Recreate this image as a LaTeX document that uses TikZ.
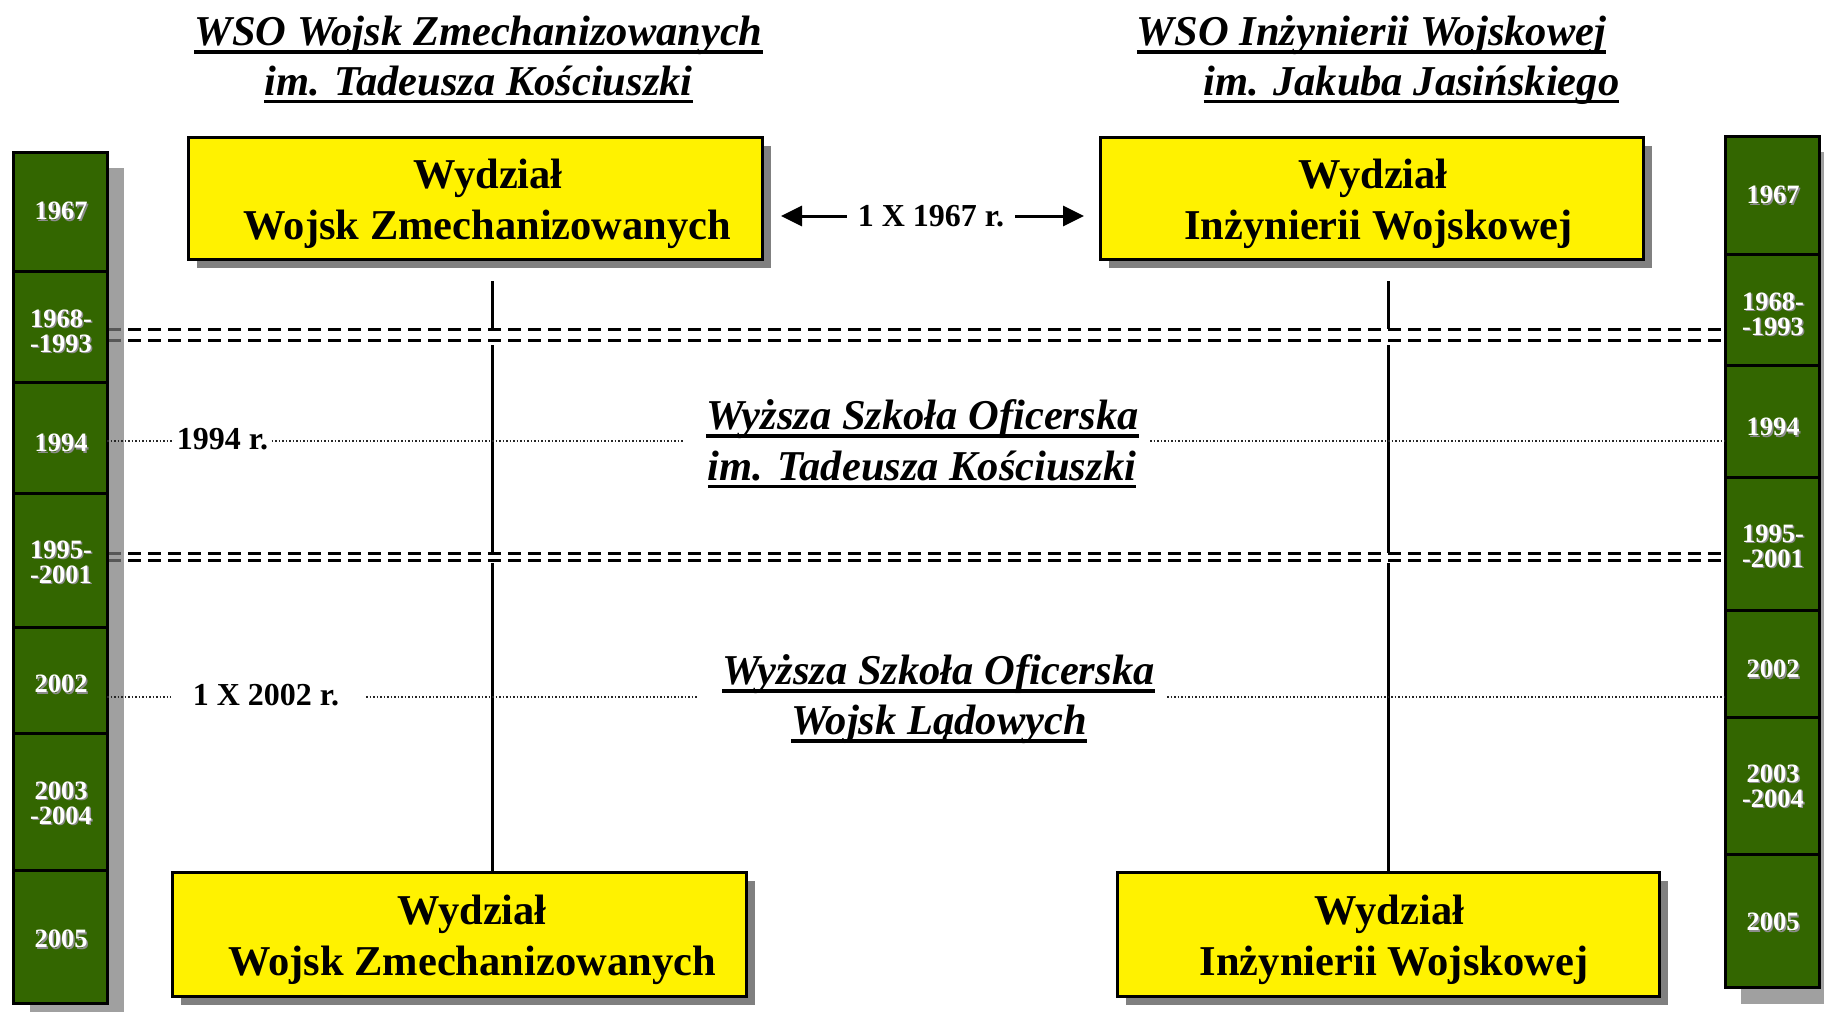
\documentclass[tikz,border=0pt]{standalone}
\usepackage{fontspec}
\setmainfont{Liberation Serif}
\usetikzlibrary{arrows.meta,shadows}
\definecolor{colgreen}{RGB}{51,102,0}
\definecolor{colshadow}{RGB}{160,160,160}
\definecolor{boxshadow}{RGB}{128,128,128}
\definecolor{txtshadow}{RGB}{140,140,140}
\newcommand\myul[1]{\setbox0\hbox{#1}\rlap{\rule[-8pt]{\wd0}{3.5pt}}\box0}
\begin{document}
\begin{tikzpicture}[x=1pt,y=-1pt,
  bigtxt/.style={font=\fontsize{42.5}{50}\selectfont\bfseries, inner sep=0pt, anchor=base},
  ttl/.style={font=\fontsize{42.5}{50}\selectfont\bfseries\itshape, inner sep=0pt, anchor=base},
  smalltxt/.style={font=\fontsize{32}{36}\selectfont\bfseries, inner sep=0pt},
  ybox/.style={draw=black, line width=3pt, fill=yellow, inner sep=0pt,
    general shadow={fill=boxshadow, shadow xshift=9pt, shadow yshift=-9pt}},
  yr/.style={font=\fontsize{26.5}{25}\selectfont\bfseries, text=white, align=center, inner sep=0pt},
  yrs/.style={yr, text=txtshadow, xshift=1.5pt, yshift=-1.5pt},
  colrule/.style={line width=3pt},
  dashline/.style={line width=3pt, dash pattern=on 13pt off 7pt},
  vline/.style={line width=3pt},
  dotline/.style={line width=1.5pt, dash pattern=on 1.5pt off 2pt, black!85},
  arr/.style={line width=3pt, -{Triangle[length=21pt,width=20pt]}}
]
\useasboundingbox (0,0) rectangle (1824,1012);
\newcommand\yrlab[4]{\node[yrs] at (#2,#3) {#4};\node[yr] (#1) at (#2,#3) {#4};}

% ---------- left timeline column ----------
\fill[colshadow] (30,168) rectangle (124,1019);
% dashed separators (drawn before the right column)
\draw[dashline] (108,329) -- (1723,329);
\draw[dashline] (108,340) -- (1723,340);
\draw[dashline] (108,553) -- (1723,553);
\draw[dashline] (108,560) -- (1723,560);
\fill[colshadow,opacity=0.55] (107,168) rectangle (124,1019);

\draw[colrule, fill=colgreen] (13,152) rectangle (107,1003);
\foreach \yy in {271,382,493,627,733,870} \draw[colrule] (13,\yy) -- (107,\yy);
\yrlab{l1}{61}{211}{1967}
\yrlab{l2}{61}{331}{1968-\\-1993}
\yrlab{l3}{61}{443}{1994}
\yrlab{l4}{61}{562}{1995-\\-2001}
\yrlab{l5}{61}{684}{2002}
\yrlab{l6}{61}{803}{2003\\-2004}
\yrlab{l7}{61}{939}{2005}

% ---------- right timeline column ----------
\fill[colshadow] (1741,152) rectangle (1840,1004);
\draw[colrule, fill=colgreen] (1725,136) rectangle (1819,987);
\foreach \yy in {254,365,477,610,717,854} \draw[colrule] (1725,\yy) -- (1819,\yy);
\yrlab{r1}{1773}{195}{1967}
\yrlab{r2}{1773}{314}{1968-\\-1993}
\yrlab{r3}{1773}{427}{1994}
\yrlab{r4}{1773}{546}{1995-\\-2001}
\yrlab{r5}{1773}{669}{2002}
\yrlab{r6}{1773}{786}{2003\\-2004}
\yrlab{r7}{1773}{922}{2005}

% ---------- titles ----------
\node[ttl] (t1a) at (478.5,45.5) {\myul{WSO Wojsk Zmechanizowanych}};
\node[ttl] (t1b) at (478.5,95) {\myul{im. Tadeusza Kościuszki}};
\node[ttl] (t2a) at (1371.5,45.5) {\myul{WSO Inżynierii Wojskowej}};
\node[ttl] (t2b) at (1411.5,95) {\myul{im. Jakuba Jasińskiego}};

% ---------- yellow boxes ----------
\node[ybox, minimum width=574pt, minimum height=122pt] (b1) at (475,198) {};
\node[bigtxt] (b1a) at (488,188.5) {Wydział};
\node[bigtxt] (b1b) at (487.5,239.5) {Wojsk Zmechanizowanych};

\node[ybox, minimum width=543pt, minimum height=122pt] (b2) at (1371.5,198) {};
\node[bigtxt] (b2a) at (1373,188.5) {Wydział};
\node[bigtxt] (b2b) at (1378.5,239.5) {Inżynierii Wojskowej};

\node[ybox, minimum width=574pt, minimum height=124pt] (b3) at (459,934) {};
\node[bigtxt] (b3a) at (472,924.5) {Wydział};
\node[bigtxt] (b3b) at (472,975.5) {Wojsk Zmechanizowanych};

\node[ybox, minimum width=542pt, minimum height=124pt] (b4) at (1388,934) {};
\node[bigtxt] (b4a) at (1389.5,924.5) {Wydział};
\node[bigtxt] (b4b) at (1394,975.5) {Inżynierii Wojskowej};

% ---------- arrows 1 X 1967 ----------
\node[smalltxt, inner xsep=11pt] (ar) at (931,216) {1 X 1967 r.};
\coordinate (tipL) at (781,216);
\coordinate (tipR) at (1084,216);
\draw[arr] (ar.west) -- (tipL);
\draw[arr] (ar.east) -- (tipR);

% ---------- vertical lines ----------
\coordinate (v1a) at (492,281); \coordinate (v1b) at (492,329);
\coordinate (v1c) at (492,345); \coordinate (v1d) at (492,553);
\coordinate (v1e) at (492,563); \coordinate (v1f) at (492,872);
\draw[vline] (v1a) -- (v1b); \draw[vline] (v1c) -- (v1d); \draw[vline] (v1e) -- (v1f);
\coordinate (v2a) at (1388,281); \coordinate (v2b) at (1388,329);
\coordinate (v2c) at (1388,345); \coordinate (v2d) at (1388,553);
\coordinate (v2e) at (1388,563); \coordinate (v2f) at (1388,872);
\draw[vline] (v2a) -- (v2b); \draw[vline] (v2c) -- (v2d); \draw[vline] (v2e) -- (v2f);

% ---------- dotted lines ----------
\coordinate (d1a) at (107,441); \coordinate (d1b) at (683,441);
\coordinate (d1c) at (1150,441); \coordinate (d1d) at (1725,441);
\draw[dotline] (d1a) -- (d1b);
\draw[dotline] (d1c) -- (d1d);
\node[smalltxt, fill=white, inner xsep=3pt, inner ysep=2pt] (y94) at (222.5,439) {1994 r.};

\coordinate (d2a) at (107,697); \coordinate (d2b) at (171,697);
\coordinate (d2c) at (366,697); \coordinate (d2d) at (698,697);
\coordinate (d2e) at (1167,697); \coordinate (d2f) at (1724,697);
\draw[dotline] (d2a) -- (d2b);
\draw[dotline] (d2c) -- (d2d);
\draw[dotline] (d2e) -- (d2f);
\node[smalltxt] (y02) at (266,695) {1 X 2002 r.};

% ---------- middle titles ----------
\node[ttl] (m1a) at (922.5,429.5) {\myul{Wyższa Szkoła Oficerska}};
\node[ttl] (m1b) at (922,480) {\myul{im. Tadeusza Kościuszki}};
\node[ttl] (m2a) at (938.5,684.5) {\myul{Wyższa Szkoła Oficerska}};
\node[ttl] (m2b) at (939,734.5) {\myul{Wojsk Lądowych}};
\end{tikzpicture}
\end{document}
